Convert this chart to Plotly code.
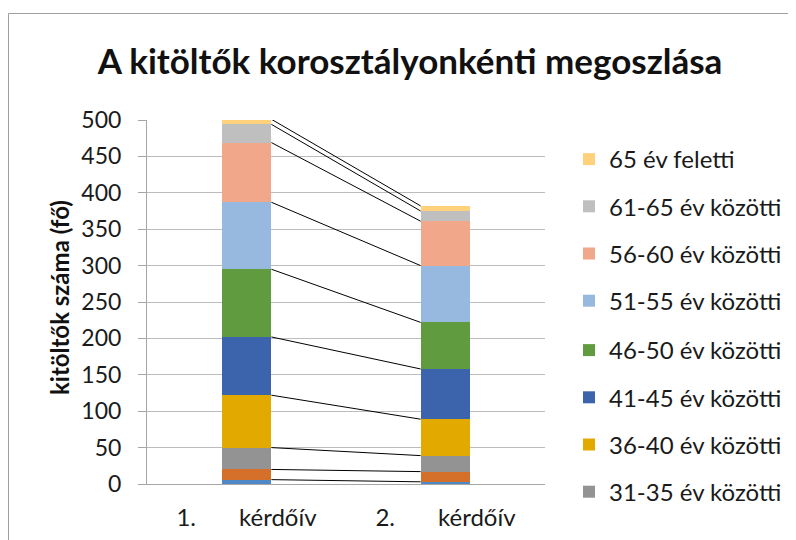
import plotly.graph_objects as go
import numpy as np

categories = ["1.\u00a0\u00a0\u00a0\u00a0\u00a0\u00a0\u00a0kérdőív", "2.\u00a0\u00a0\u00a0\u00a0\u00a0\u00a0\u00a0kérdőív"]
series_names = ["18-25 év közötti", "26-30 év közötti", "31-35 év közötti", "36-40 év közötti",
                "41-45 év közötti", "46-50 év közötti", "51-55 év közötti", "56-60 év közötti",
                "61-65 év közötti", "65 év feletti"]
values_1 = [6, 14, 30, 72, 80, 93, 92, 82, 25, 7]
values_2 = [3, 14, 22, 50, 69, 64, 78, 61, 14, 7]
colors = ["#4E88C7", "#D5702B", "#939393", "#E2A900", "#3B64AD", "#619B40",
          "#97B8DF", "#F1A78A", "#BFBFBF", "#FFD17A"]
legend_visible = [False, False, True, True, True, True, True, True, True, True]
y_ticks = [0, 50, 100, 150, 200, 250, 300, 350, 400, 450, 500]

FONT = "Lato"
x_pos = [0, 1]
bar_w = 0.25

fig = go.Figure()
n = len(series_names)
for i, name in enumerate(series_names):
    # the legend is split into two stacked boxes (top 4 / next 4) to avoid scrolling
    which = "legend" if i >= 6 else "legend2"
    fig.add_trace(go.Bar(
        x=x_pos, y=[values_1[i], values_2[i]], name=name, width=bar_w,
        marker=dict(color=colors[i], line=dict(width=0)),
        showlegend=legend_visible[i], legendgroup=name, legendrank=n - i,
        legend=which,
    ))

# series lines connecting segment tops
cum1 = np.cumsum(values_1)
cum2 = np.cumsum(values_2)
lx, ly = [], []
for a, b in zip(cum1, cum2):
    lx += [x_pos[0] + bar_w / 2, x_pos[1] - bar_w / 2, None]
    ly += [a, b, None]
fig.add_trace(go.Scatter(x=lx, y=ly, mode="lines", line=dict(color="black", width=1),
                         showlegend=False, hoverinfo="skip"))

# page has an 8px body margin: figure coords = page coords - 8
W, H = 788, 532
L, T = 139, 112
pw, ph = 398, 364
R, B = W - L - pw, H - T - ph
bottom = T + ph  # fig y of the zero line


def px_x(fx):
    return (fx - L) / pw


def px_y(fy):
    return (bottom - fy) / ph


leg_common = dict(x=px_x(561), xanchor="left", yanchor="top",
                  traceorder="grouped", tracegroupgap=13,
                  font=dict(size=24), bgcolor="rgba(0,0,0,0)")

fig.update_layout(
    width=W, height=H, autosize=False,
    margin=dict(l=L, r=R, t=T, b=B, pad=0, autoexpand=False),
    barmode="stack",
    plot_bgcolor="white", paper_bgcolor="white",
    font=dict(family=FONT, size=22, color="#1a1a1a"),
    title=dict(text="<b>A kitöltők korosztályonkénti megoszlása</b>",
               x=(410 - 8) / W, xanchor="center", xref="container",
               y=1 - (62 - 8) / H, yanchor="middle", yref="container",
               font=dict(family=FONT, size=35, color="#111")),
    xaxis=dict(range=[-0.5, 1.5], tickvals=x_pos, ticktext=categories,
               showgrid=False, showline=True, linecolor="#a6a6a6", linewidth=1,
               ticks="", zeroline=False, tickfont=dict(size=24), ticklabelstandoff=12,
               automargin=False),
    yaxis=dict(range=[0, 500], tickvals=y_ticks, showgrid=True, gridcolor="#bcbcbc",
               gridwidth=1, showline=True, linecolor="#a6a6a6", linewidth=1,
               ticks="outside", ticklen=8, tickcolor="#a6a6a6", zeroline=False,
               tickfont=dict(size=23), ticklabelstandoff=12, automargin=False),
    legend=dict(y=px_y(129), **leg_common),
    legend2=dict(y=px_y(129 + 191), **leg_common),
    bargap=0,
    shapes=[dict(type="rect", xref="paper", yref="paper",
                 x0=px_x(0.5), x1=px_x(W + 10),
                 y0=px_y(H + 10), y1=px_y(5.5),
                 line=dict(color="#a0a0a0", width=1), fillcolor="rgba(0,0,0,0)", layer="below")],
    annotations=[dict(text="<b>kitöltők száma (fő)</b>", textangle=-90,
                      xref="paper", yref="paper", x=px_x(59 - 8), y=px_y(298 - 8),
                      xanchor="center", yanchor="middle", showarrow=False,
                      font=dict(family=FONT, size=24, color="#111"))],
)

fig.write_html("out.html")
